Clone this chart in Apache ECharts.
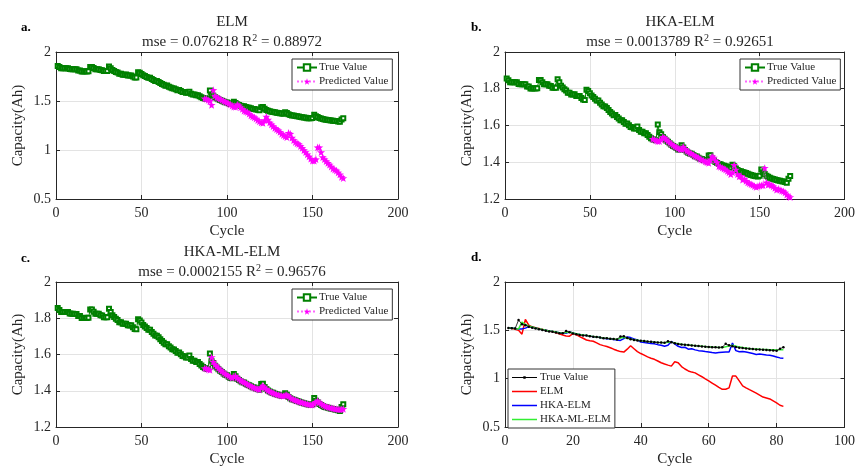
<!DOCTYPE html>
<html><head><meta charset="utf-8">
<script src="https://cdn.jsdelivr.net/npm/echarts@6/dist/echarts.min.js"></script>
<style>html,body{margin:0;padding:0;background:#fff}#c{width:858px;height:468px}</style>
</head><body><div id="c"></div>
<script>
// measured capacity, cycles 1..168
const trueCap = [
1.856,1.846,1.835,1.835,1.835,1.835,1.835,1.826,1.825,1.825,
1.824,1.824,1.812,1.812,1.802,1.802,1.803,1.802,1.803,1.848,
1.848,1.836,1.825,1.825,1.825,1.816,1.815,1.806,1.805,1.805,
1.852,1.835,1.817,1.807,1.797,1.790,1.778,1.778,1.769,1.769,
1.770,1.761,1.760,1.761,1.750,1.741,1.739,1.794,1.788,1.776,
1.763,1.755,1.746,1.736,1.736,1.724,1.714,1.705,1.703,1.695,
1.684,1.674,1.665,1.656,1.657,1.646,1.638,1.629,1.628,1.619,
1.610,1.611,1.601,1.592,1.591,1.584,1.583,1.594,1.575,1.566,
1.566,1.558,1.558,1.548,1.539,1.531,1.525,1.522,1.520,1.606,
1.563,1.553,1.538,1.528,1.519,1.511,1.503,1.495,1.488,1.485,
1.477,1.470,1.469,1.493,1.480,1.466,1.459,1.452,1.447,1.446,
1.439,1.433,1.431,1.425,1.419,1.418,1.412,1.411,1.406,1.437,
1.438,1.421,1.409,1.401,1.396,1.391,1.389,1.384,1.381,1.378,
1.375,1.373,1.371,1.386,1.378,1.366,1.358,1.353,1.351,1.347,
1.344,1.341,1.337,1.334,1.331,1.328,1.325,1.324,1.323,1.326,
1.360,1.345,1.336,1.327,1.321,1.316,1.311,1.309,1.306,1.303,
1.301,1.299,1.297,1.295,1.292,1.288,1.310,1.325];
const predStart = 87; // first predicted cycle
const elmPred = [
1.526,1.520,1.510,1.500,1.460,1.612,1.553,1.536,1.528,1.520,
1.510,1.500,1.493,1.485,1.475,1.465,1.452,1.442,1.440,1.465,
1.455,1.435,1.418,1.400,1.393,1.387,1.370,1.352,1.342,1.333,
1.320,1.305,1.292,1.280,1.275,1.305,1.340,1.310,1.280,1.260,
1.243,1.225,1.212,1.200,1.183,1.165,1.152,1.140,1.130,1.175,
1.165,1.125,1.100,1.080,1.068,1.060,1.040,1.020,0.998,0.977,
0.955,0.933,0.910,0.890,0.890,0.905,1.027,1.027,0.977,0.926,
0.905,0.886,0.868,0.850,0.830,0.810,0.800,0.790,0.770,0.750,
0.725,0.713];
const hkaElmPred = [
1.527,1.524,1.519,1.514,1.515,1.523,1.538,1.532,1.524,1.515,
1.507,1.500,1.493,1.487,1.482,1.476,1.471,1.470,1.485,1.472,
1.463,1.457,1.450,1.447,1.440,1.434,1.430,1.425,1.418,1.413,
1.410,1.404,1.400,1.396,1.415,1.432,1.425,1.410,1.400,1.378,
1.375,1.370,1.365,1.360,1.352,1.345,1.335,1.345,1.385,1.360,
1.335,1.323,1.325,1.305,1.310,1.298,1.290,1.285,1.280,1.276,
1.270,1.265,1.270,1.273,1.275,1.275,1.369,1.290,1.278,1.280,
1.275,1.269,1.260,1.250,1.255,1.250,1.245,1.242,1.235,1.224,
1.215,1.210];
const hkaMlElmPred = [
1.525,1.522,1.518,1.515,1.585,1.560,1.545,1.535,1.525,1.516,
1.508,1.500,1.493,1.488,1.482,1.476,1.472,1.478,1.482,1.472,
1.464,1.457,1.451,1.447,1.441,1.435,1.431,1.426,1.421,1.417,
1.413,1.410,1.406,1.420,1.428,1.418,1.410,1.402,1.397,1.392,
1.388,1.384,1.381,1.378,1.375,1.373,1.371,1.376,1.378,1.370,
1.362,1.356,1.352,1.348,1.345,1.341,1.338,1.335,1.332,1.330,
1.327,1.325,1.323,1.323,1.330,1.338,1.345,1.335,1.328,1.322,
1.317,1.313,1.310,1.308,1.305,1.303,1.301,1.299,1.298,1.297,
1.298,1.300];
const panelTitles = ['ELM','HKA-ELM','HKA-ML-ELM',''];
const mseText = ['0.076218','0.0013789','0.0002155'];
const r2Text = ['0.88972','0.92651','0.96576'];
const panelTags = ['a.','b.','c.','d.'];
const xTicks = [{min:0,max:200,interval:50},{min:0,max:200,interval:50},{min:0,max:200,interval:50},{min:0,max:100,interval:20}];
const yTicks = [{min:0.5,max:2,interval:0.5},{min:1.2,max:2,interval:0.2},{min:1.2,max:2,interval:0.2},{min:0.5,max:2,interval:0.5}];

const FONT = "'Liberation Serif','Times New Roman',serif";
const FRAME = '#262626';
const STAR = 'path://M0,-10L2.35,-3.24L9.51,-3.09L3.8,1.24L5.88,8.09L0,4.3L-5.88,8.09L-3.8,1.24L-9.51,-3.09L-2.35,-3.24Z';
// legend icons: thin line (tiny corner specks keep full box height)
const LINE_ICON = 'path://M0,0h0.01v0.01zM0,4.3H25V5.7H0ZM25,10h-0.01v-0.01z';
const LINE_DOT_ICON = 'path://M0,0h0.01v0.01zM0,4.5H25V5.5H0ZM11.3,3.8H13.7V6.2H11.3ZM25,10h-0.01v-0.01z';
const D_TRUE = 'True Value ';

const grids = [
  {left:56, top:52, width:342, height:147},
  {left:505, top:52, width:341, height:147},
  {left:56, top:282, width:342, height:147},
  {left:505, top:282, width:341, height:147}
];
const xAxes = [], yAxes = [];
grids.forEach((g,i)=>{
  xAxes.push({type:'value', gridIndex:i, min:xTicks[i].min, max:xTicks[i].max, interval:xTicks[i].interval,
    name:'Cycle', nameLocation:'middle', nameGap:25, nameTextStyle:{fontFamily:FONT,fontSize:15,color:'#262626'},
    axisLine:{show:true,onZero:false,lineStyle:{color:FRAME}}, axisTick:{inside:true,length:4,lineStyle:{color:FRAME}},
    axisLabel:{fontFamily:FONT,fontSize:14,color:'#262626',margin:7},
    splitLine:{show:true,lineStyle:{color:'#e3e3e3'}}});
  yAxes.push({type:'value', gridIndex:i, min:yTicks[i].min, max:yTicks[i].max, interval:yTicks[i].interval,
    name:'Capacity(Ah)', nameLocation:'middle', nameGap:30, nameTextStyle:{fontFamily:FONT,fontSize:15,color:'#262626'},
    axisLine:{show:true,onZero:false,lineStyle:{color:FRAME}}, axisTick:{inside:true,length:4,lineStyle:{color:FRAME}},
    axisLabel:{fontFamily:FONT,fontSize:14,color:'#262626',margin:5},
    splitLine:{show:true,lineStyle:{color:'#e3e3e3'}}});
});
grids.forEach((g,i)=>{
  xAxes.push({type:'value', gridIndex:i, position:'top', min:xTicks[i].min, max:xTicks[i].max, interval:xTicks[i].interval,
    axisLine:{show:true,onZero:false,lineStyle:{color:FRAME}}, axisTick:{inside:true,length:4,lineStyle:{color:FRAME}},
    axisLabel:{show:false}, splitLine:{show:false}});
  yAxes.push({type:'value', gridIndex:i, position:'right', min:yTicks[i].min, max:yTicks[i].max, interval:yTicks[i].interval,
    axisLine:{show:true,onZero:false,lineStyle:{color:FRAME}}, axisTick:{inside:true,length:4,lineStyle:{color:FRAME}},
    axisLabel:{show:false}, splitLine:{show:false}});
});

const truePairs = trueCap.map((v,i)=>[i+1,v]);
const toPairs = arr => arr.map((v,i)=>[predStart+i, v]);
const predSets = [elmPred, hkaElmPred, hkaMlElmPred];
const series = [];
for (let i=0;i<3;i++){
  series.push({name:'True Value', type:'line', xAxisIndex:i, yAxisIndex:i, data:truePairs,
    symbol:'emptyRect', symbolSize:4, color:'#008000',
    lineStyle:{color:'#008000',width:1}, itemStyle:{color:'#008000',borderColor:'#008000',borderWidth:1},
    animation:false, z:2});
  series.push({name:'Predicted Value', type:'line', xAxisIndex:i, yAxisIndex:i, data:toPairs(predSets[i]),
    symbol:STAR, symbolSize:8, symbolKeepAspect:true, color:'#ff00ff',
    lineStyle:{color:'#ff66ff',width:0.8,type:'dotted'}, itemStyle:{color:'#ff00ff'},
    animation:false, z:3});
}
const dTrue = trueCap.slice(predStart-1).map((v,i)=>[i+1,v]);
const idx = arr => arr.map((v,i)=>[i+1,v]);
series.push({name:D_TRUE, type:'line', xAxisIndex:3, yAxisIndex:3, data:dTrue,
  symbol:'circle', symbolSize:2.5, color:'#000', lineStyle:{color:'#333',width:1}, itemStyle:{color:'#000'}, animation:false, z:5});
series.push({name:'ELM', type:'line', xAxisIndex:3, yAxisIndex:3, data:idx(elmPred), showSymbol:false, symbol:'none',
  color:'#ff0000', lineStyle:{color:'#ff0000',width:1.5}, animation:false, z:3});
series.push({name:'HKA-ELM', type:'line', xAxisIndex:3, yAxisIndex:3, data:idx(hkaElmPred), showSymbol:false, symbol:'none',
  color:'#0000ff', lineStyle:{color:'#0000ff',width:1.5}, animation:false, z:3});
series.push({name:'HKA-ML-ELM', type:'line', xAxisIndex:3, yAxisIndex:3, data:idx(hkaMlElmPred), showSymbol:false, symbol:'none',
  color:'#33ee33', lineStyle:{color:'#33ee33',width:1.5}, animation:false, z:4});

const titleCenters = [[227,10],[675,10],[227,240]];
const titles = [];
for (let i=0;i<3;i++){
  titles.push({text:panelTitles[i], left:titleCenters[i][0], top:titleCenters[i][1], textAlign:'center', itemGap:3,
    textStyle:{fontFamily:FONT,fontSize:15,fontWeight:'normal',color:'#262626'},
    subtext:'mse = '+mseText[i]+' R{sup|2} = '+r2Text[i],
    subtextStyle:{fontFamily:FONT,fontSize:15,color:'#262626',lineHeight:18,
      rich:{sup:{fontFamily:FONT,fontSize:10,color:'#262626',verticalAlign:'top',lineHeight:10}}}});
}
const tagPos = [[16,16],[466,16],[16,247],[466,246]];
panelTags.forEach((t,i)=>titles.push({text:t,left:tagPos[i][0],top:tagPos[i][1],
  textStyle:{fontFamily:FONT,fontSize:13,fontWeight:'bold',color:'#000'}}));

const legStyle = {orient:'vertical', padding:[3,4], itemGap:3, itemWidth:20, itemHeight:8,
  borderColor:'#333', borderWidth:1, backgroundColor:'#fff', selectedMode:false,
  textStyle:{fontFamily:FONT,fontSize:11,color:'#262626',padding:[0,0,0,-3]}};
const legends = [
  Object.assign({}, legStyle, {left:292, top:59, data:['True Value','Predicted Value']}),
  Object.assign({}, legStyle, {left:740, top:59, data:['True Value','Predicted Value']}),
  Object.assign({}, legStyle, {left:292, top:289, data:['True Value','Predicted Value']}),
  Object.assign({}, legStyle, {left:508, top:369, itemGap:3, padding:[3,4], itemWidth:25, itemHeight:10,
    data:[{name:D_TRUE, icon:LINE_DOT_ICON},
          {name:'ELM', icon:LINE_ICON}, {name:'HKA-ELM', icon:LINE_ICON}, {name:'HKA-ML-ELM', icon:LINE_ICON}],
    formatter: n => n.trim(),
    textStyle:{fontFamily:FONT,fontSize:11,color:'#262626',padding:[0,0,0,-2]}})
];

const chart = echarts.init(document.getElementById('c'), null, {renderer:'canvas'});
chart.setOption({
  backgroundColor:'#fff', animation:false,
  title:titles, legend:legends, grid:grids, xAxis:xAxes, yAxis:yAxes, series:series
});
</script></body></html>
